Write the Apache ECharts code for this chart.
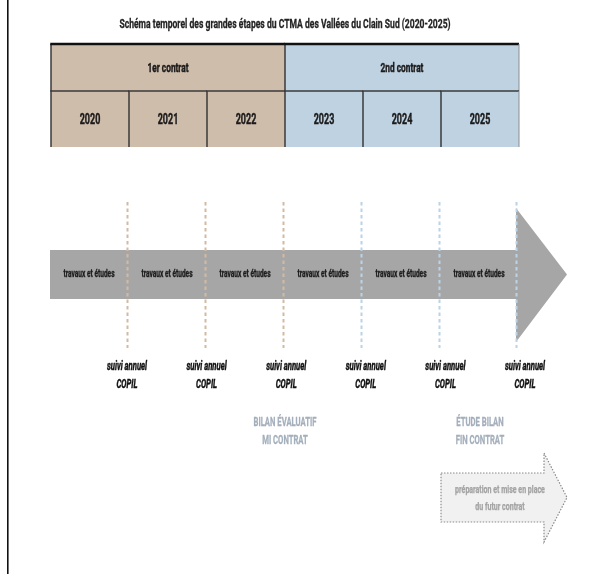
<!DOCTYPE html>
<html><head><meta charset="utf-8">
<script src="https://cdn.jsdelivr.net/npm/echarts@6/dist/echarts.min.js"></script>
<style>html,body{margin:0;padding:0;background:#fff}#c{width:589px;height:574px}</style>
</head><body><div id="c"></div>
<script>
// ---------- data ----------
const titleText = 'Schéma temporel des grandes étapes du CTMA des Vallées du Clain Sud (2020-2025)';
const years = [2020, 2021, 2022, 2023, 2024, 2025];
const contractNames = ['1er contrat', '2nd contrat'];
const contractStart = [2020, 2023];
const contractEnd = [2023, 2026];
const phaseLabels = ['travaux et études', 'travaux et études', 'travaux et études', 'travaux et études', 'travaux et études', 'travaux et études'];
const milestoneYears = [2021, 2022, 2023, 2024, 2025, 2026];
const milestoneLine1 = ['suivi annuel', 'suivi annuel', 'suivi annuel', 'suivi annuel', 'suivi annuel', 'suivi annuel'];
const milestoneLine2 = ['COPIL', 'COPIL', 'COPIL', 'COPIL', 'COPIL', 'COPIL'];
const reviewAt = [2023, 2025.5];
const reviewLine1 = ['BILAN ÉVALUATIF', 'ÉTUDE BILAN'];
const reviewLine2 = ['MI CONTRAT', 'FIN CONTRAT'];
const nextStepFrom = [2025];
const nextStepTo = [2026];
const nextStepLine1 = ['préparation et mise en place'];
const nextStepLine2 = ['du futur contrat'];

// ---------- layout / style ----------
const L = {
  titleY: 25, row1Top: 44, row1Bot: 91, row2Bot: 147,
  dashTop: 202, dashBot: 348,
  arrowTop: 250, arrowBot: 299, headTop: 208, headBot: 342, headLen: 49, arrowInset: 3,
  ms1Y: 367, ms2Y: 385, rv1Y: 423, rv2Y: 441,
  nsTop: 473, nsBot: 522, nsHeadTop: 453, nsHeadBot: 542, nsHeadLen: 23, ns1Y: 490, ns2Y: 507
};
const FONT = 'Roboto, "Liberation Sans", sans-serif';
const SX = 0.64;
const colors = { tan: '#cfbdab', blue: '#bfd2e2', arrow: '#a6a6a6', dashTan: '#d3b9a4', dashBlue: '#bcd3e6', border: '#3a3a3a', review: '#a4afbc', ns: '#a2a2a2' };
const contractColor = [colors.tan, colors.blue];
const dashColor = [colors.dashTan, colors.dashBlue];

function contractOf(y) { for (let i = 0; i < contractStart.length; i++) if (y >= contractStart[i] && y < contractEnd[i]) return i; return contractStart.length - 1; }
function contractOfBoundary(y) { for (let i = 0; i < contractStart.length; i++) if (y > contractStart[i] && y <= contractEnd[i]) return i; return 0; }

function txt(x, y, text, size, weight, fill, style, sx, heavy) {
  const st = { text: text, x: 0, y: 0, align: 'center', verticalAlign: 'middle', fill: fill,
      font: (style || 'normal') + ' ' + weight + ' ' + size + 'px ' + FONT };
  if (heavy) { st.stroke = fill; st.lineWidth = heavy; }
  return { type: 'text', x: x, y: y, scaleX: sx || SX, style: st };
}

// table cells
const cells = [];
contractNames.forEach((n, i) => cells.push({ s: contractStart[i], e: contractEnd[i], label: n, row: 0, c: i }));
years.forEach(y => cells.push({ s: y, e: y + 1, label: String(y), row: 1, c: contractOf(y) }));

const option = {
  animation: false,
  grid: { left: 51, right: 70, top: 0, bottom: 0 },
  xAxis: { type: 'value', min: 2020, max: 2026, show: false },
  yAxis: { type: 'value', min: 0, max: 574, inverse: true, show: false },
  graphic: [
    { type: 'rect', shape: { x: 7, y: 0, width: 1.6, height: 574 }, style: { fill: '#111' } },
    { type: 'text', x: 285, y: L.titleY, scaleX: 0.66, style: { text: titleText, x: 0, y: 0, align: 'center', verticalAlign: 'middle', fill: '#222', stroke: '#222', lineWidth: 0.3, font: 'bold 13px ' + FONT } }
  ],
  series: [
    { // table
      type: 'custom', name: 'table',
      data: cells.map(c => [c.s, c.e]),
      encode: { x: [0, 1] },
      renderItem: function (params, api) {
        const c = cells[params.dataIndex];
        const top = c.row === 0 ? L.row1Top : L.row1Bot;
        const bot = c.row === 0 ? L.row1Bot : L.row2Bot;
        const p0 = api.coord([c.s, top]), p1 = api.coord([c.e, bot]);
        const ch = [
          { type: 'rect', shape: { x: p0[0], y: p0[1], width: p1[0] - p0[0], height: p1[1] - p0[1] }, style: { fill: contractColor[c.c] } },
          { type: 'line', shape: { x1: p0[0], y1: p0[1], x2: p0[0], y2: p1[1] }, style: { stroke: colors.border, lineWidth: 1.5 } },
          { type: 'line', shape: { x1: p0[0] - 0.75, y1: p0[1], x2: p1[0], y2: p0[1] }, style: { stroke: c.row === 0 ? '#111' : colors.border, lineWidth: c.row === 0 ? 2.5 : 1.5 } },
          txt((p0[0] + p1[0]) / 2, (p0[1] + p1[1]) / 2 + 1, c.label, c.row === 0 ? 13 : 14, 'bold', '#1a1a1a', null, null, 0.45)
        ];
        if (c.e === contractEnd[contractEnd.length - 1]) {
          ch.push({ type: 'line', shape: { x1: p1[0], y1: p0[1], x2: p1[0], y2: p1[1] }, style: { stroke: '#8a8f95', lineWidth: 1 } });
        }
        return { type: 'group', children: ch };
      }
    },
    { // main arrow
      type: 'custom', name: 'arrow',
      data: [[years[0], contractEnd[contractEnd.length - 1]]],
      encode: { x: [0, 1] },
      renderItem: function (params, api) {
        const a = api.coord([api.value(0), L.arrowTop]);
        const b = api.coord([api.value(1), L.arrowBot]);
        const bx = b[0] - L.arrowInset;
        const ht = api.coord([api.value(1), L.headTop])[1];
        const hb = api.coord([api.value(1), L.headBot])[1];
        const tipX = b[0] + L.headLen - 1, midY = (a[1] + b[1]) / 2;
        return { type: 'polygon', shape: { points: [[a[0] - 1, a[1]], [bx, a[1]], [bx, ht], [tipX, midY], [bx, hb], [bx, b[1]], [a[0] - 1, b[1]]] }, style: { fill: colors.arrow } };
      }
    },
    { // phase labels
      type: 'custom', name: 'phases',
      data: years.map(y => [y, y + 1]),
      encode: { x: [0, 1] },
      renderItem: function (params, api) {
        const p0 = api.coord([api.value(0), (L.arrowTop + L.arrowBot) / 2]);
        const p1 = api.coord([api.value(1), (L.arrowTop + L.arrowBot) / 2]);
        return txt((p0[0] + p1[0]) / 2 - 1, p0[1], phaseLabels[params.dataIndex], 11, 'bold', '#1c1c1c', null, 0.6, 0.35);
      }
    },
    { // dashed milestone lines
      type: 'custom', name: 'dashes',
      data: milestoneYears.map(y => [y]),
      encode: { x: 0 },
      renderItem: function (params, api) {
        const y = api.value(0);
        const a = api.coord([y, L.dashTop]), b = api.coord([y, L.dashBot]);
        const off = params.dataIndex === milestoneYears.length - 1 ? -2.5 : -1.5;
        return { type: 'line', shape: { x1: a[0] + off, y1: a[1], x2: b[0] + off, y2: b[1] }, style: { stroke: dashColor[contractOfBoundary(y)], lineWidth: 2, lineDash: [3.5, 3] } };
      }
    },
    { // milestone labels
      type: 'custom', name: 'milestones',
      data: milestoneYears.map(y => [y]),
      encode: { x: 0 },
      renderItem: function (params, api) {
        const i = params.dataIndex;
        const p = api.coord([api.value(0), L.ms1Y]);
        const x = p[0] - 2 + i * 1.6;
        return { type: 'group', children: [
          txt(x, L.ms1Y, milestoneLine1[i], 12, 'bold', '#111', 'italic', null, 0.45),
          txt(x, api.coord([api.value(0), L.ms2Y])[1], milestoneLine2[i], 12, 'bold', '#111', 'italic', null, 0.45)
        ] };
      }
    },
    { // review labels
      type: 'custom', name: 'reviews',
      data: reviewAt.map(y => [y]),
      encode: { x: 0 },
      renderItem: function (params, api) {
        const i = params.dataIndex;
        const p = api.coord([api.value(0), L.rv1Y]);
        const q = api.coord([api.value(0), L.rv2Y]);
        return { type: 'group', children: [
          txt(p[0], p[1], reviewLine1[i], 12, 'bold', colors.review, null, null, 0.3),
          txt(q[0], q[1], reviewLine2[i], 12, 'bold', colors.review, null, null, 0.3)
        ] };
      }
    },
    { // next step arrow
      type: 'custom', name: 'nextStep',
      data: nextStepFrom.map((s, i) => [s, nextStepTo[i]]),
      encode: { x: [0, 1] },
      renderItem: function (params, api) {
        const i = params.dataIndex;
        const a = api.coord([api.value(0), L.nsTop]);
        const b = api.coord([api.value(1), L.nsBot]);
        const tipX = b[0] + L.headLen - 1;
        const hx = tipX - L.nsHeadLen;
        const ht = api.coord([api.value(1), L.nsHeadTop])[1];
        const hb = api.coord([api.value(1), L.nsHeadBot])[1];
        const midY = (a[1] + b[1]) / 2;
        const cx = (a[0] + tipX) / 2 - 4;
        return { type: 'group', children: [
          { type: 'polygon', shape: { points: [[a[0], a[1]], [hx, a[1]], [hx, ht], [tipX, midY], [hx, hb], [hx, b[1]], [a[0], b[1]]] },
            style: { fill: '#f1f1f1', stroke: '#8c8c8c', lineWidth: 1.2, lineDash: [1.5, 1.5] } },
          txt(cx, api.coord([0, L.ns1Y])[1], nextStepLine1[i], 11, 'bold', colors.ns, null, null, 0.25),
          txt(cx, api.coord([0, L.ns2Y])[1], nextStepLine2[i], 11, 'bold', colors.ns, null, null, 0.25)
        ] };
      }
    }
  ]
};
const chart = echarts.init(document.getElementById('c'), null, { renderer: 'canvas' });
chart.setOption(option);
</script></body></html>
